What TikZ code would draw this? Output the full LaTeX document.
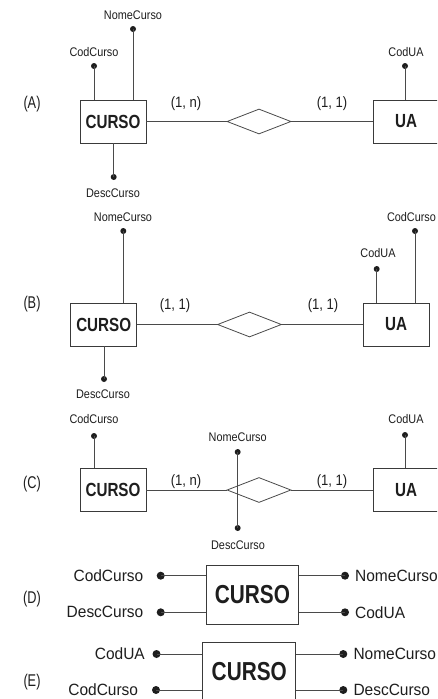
\documentclass[tikz,border=0pt]{standalone}
\usepackage{fontspec}
\setmainfont{Liberation Sans}
\newfontfamily\condf[FakeStretch=0.87]{Liberation Sans}
\newfontfamily\widef[FakeStretch=0.95]{Liberation Sans}
\newfontfamily\condb[FakeStretch=0.8]{Liberation Sans}
\newfontfamily\lblf[FakeStretch=0.75]{Liberation Sans}
\usetikzlibrary{shapes.geometric}
\definecolor{linec}{HTML}{4A4A4A}
\definecolor{boxc}{HTML}{3A3A3A}
\definecolor{txtc}{HTML}{1E1E1E}
\begin{document}
\begin{tikzpicture}[x=1pt,y=-1pt,
 ent/.style={draw=boxc, line width=0.9pt, minimum width=66pt, minimum height=43pt, inner sep=0pt, font=\condb\bfseries\fontsize{19}{20}\selectfont, text=txtc},
 bigent/.style={ent, minimum width=92pt, minimum height=59pt, font=\condb\bfseries\fontsize{26}{28}\selectfont},
 rel/.style={diamond, draw=linec, line width=0.8pt, minimum width=64pt, minimum height=25pt, inner sep=0pt},
 dot/.style={circle, fill=txtc, inner sep=0pt, minimum size=6pt},
 bigdot/.style={dot, minimum size=8pt},
 attr/.style={font=\condf\fontsize{12.5}{14}\selectfont, inner sep=0pt, text=txtc},
 bigattr/.style={font=\widef\fontsize{16.3}{18}\selectfont, inner sep=0pt, text=txtc},
 card/.style={font=\condf\fontsize{15}{17}\selectfont, inner sep=0pt, text=txtc},
 tag/.style={font=\lblf\fontsize{17}{19}\selectfont, inner sep=0pt, text=txtc},
 conn/.style={draw=linec, line width=0.8pt}]
\useasboundingbox (0,0) rectangle (437,699);
\clip (0,0) rectangle (437,699);
\fill[white] (0,0) rectangle (437,699);

% ---------- (A)
\node[tag] (tA) at (32,104) {(A)};
\node[ent] (cA) at (113,121.5) {CURSO};
\node[ent] (uA) at (406,121.5) {UA};
\node[rel] (rA) at (259,121.5) {};
\draw[conn] (cA) -- (rA);
\draw[conn] (rA) -- (uA);
\node[card] (k1A) at (186,104) {(1, n)};
\node[card] (k2A) at (332,104) {(1, 1)};
\node[dot] (a1) at (94,66) {};
\node[attr] (la1) at (94,52) {CodCurso};
\draw[conn] (a1.center) -- (a1.center |- cA.north);
\node[dot] (a2) at (133,29) {};
\node[attr] (la2) at (133,15) {NomeCurso};
\draw[conn] (a2.center) -- (a2.center |- cA.north);
\node[dot] (a3) at (113.7,177) {};
\node[attr] (la3) at (113,193) {DescCurso};
\draw[conn] (a3.center) -- (a3.center |- cA.south);
\node[dot] (a4) at (405,66) {};
\node[attr] (la4) at (406,52) {CodUA};
\draw[conn] (a4.center) -- (a4.center |- uA.north);

% ---------- (B)
\node[tag] (tB) at (32,304.5) {(B)};
\node[ent] (cB) at (103.7,324.5) {CURSO};
\node[ent] (uB) at (396,324.5) {UA};
\node[rel] (rB) at (249.5,324.5) {};
\draw[conn] (cB) -- (rB);
\draw[conn] (rB) -- (uB);
\node[card] (k1B) at (175,306) {(1, 1)};
\node[card] (k2B) at (323,306) {(1, 1)};
\node[dot] (b1) at (123.3,231) {};
\node[attr] (lb1) at (123,217) {NomeCurso};
\draw[conn] (b1.center) -- (b1.center |- cB.north);
\node[dot] (b2) at (104,379) {};
\node[attr] (lb2) at (103,394) {DescCurso};
\draw[conn] (b2.center) -- (b2.center |- cB.south);
\node[dot] (b3) at (376.7,269) {};
\node[attr] (lb3) at (378,253) {CodUA};
\draw[conn] (b3.center) -- (b3.center |- uB.north);
\node[dot] (b4) at (415,231) {};
\node[attr] (lb4) at (411.5,217) {CodCurso};
\draw[conn] (b4.center) -- (b4.center |- uB.north);

% ---------- (C)
\node[tag] (tC) at (32,484) {(C)};
\node[ent] (cC) at (113,490) {CURSO};
\node[ent] (uC) at (406,490) {UA};
\node[rel] (rC) at (259,490) {};
\draw[conn] (cC) -- (rC);
\draw[conn] (rC) -- (uC);
\node[card] (k1C) at (186,482) {(1, n)};
\node[card] (k2C) at (332,482) {(1, 1)};
\node[dot] (c1) at (94,436) {};
\node[attr] (lc1) at (94,419) {CodCurso};
\draw[conn] (c1.center) -- (c1.center |- cC.north);
\node[dot] (c2) at (237.7,452) {};
\node[attr] (lc2) at (237.7,437) {NomeCurso};
\node[dot] (c3) at (237.7,528) {};
\node[attr] (lc3) at (238,545) {DescCurso};
\draw[conn] (c2.center) -- (c3.center);
\node[dot] (c4) at (405,435) {};
\node[attr] (lc4) at (406,419) {CodUA};
\draw[conn] (c4.center) -- (c4.center |- uC.north);

% ---------- (D)
\node[tag] (tD) at (32,599) {(D)};
\node[bigent] (cD) at (252.5,595) {CURSO};
\node[bigdot] (d1) at (160.7,575.7) {};
\node[bigattr, anchor=east] (ld1) at (143.5,575.7) {CodCurso};
\draw[conn] (d1.center) -- (d1.center -| cD.west);
\node[bigdot] (d2) at (160.7,612.3) {};
\node[bigattr, anchor=east] (ld2) at (143.5,612.3) {DescCurso};
\draw[conn] (d2.center) -- (d2.center -| cD.west);
\node[bigdot] (d3) at (345,575.7) {};
\node[bigattr, anchor=west] (ld3) at (355,575.7) {NomeCurso};
\draw[conn] (d3.center) -- (d3.center -| cD.east);
\node[bigdot] (d4) at (345,612.3) {};
\node[bigattr, anchor=west] (ld4) at (355,612.3) {CodUA};
\draw[conn] (d4.center) -- (d4.center -| cD.east);

% ---------- (E)
\node[tag] (tE) at (32,682) {(E)};
\node[bigent, minimum width=93pt] (cE) at (249.3,672) {CURSO};
\node[bigdot] (e1) at (156.5,654) {};
\node[bigattr, anchor=east] (le1) at (145,654) {CodUA};
\draw[conn] (e1.center) -- (e1.center -| cE.west);
\node[bigdot] (e2) at (156,690) {};
\node[bigattr, anchor=east] (le2) at (138.3,690) {CodCurso};
\draw[conn] (e2.center) -- (e2.center -| cE.west);
\node[bigdot] (e3) at (343.3,654) {};
\node[bigattr, anchor=west] (le3) at (353.3,654) {NomeCurso};
\draw[conn] (e3.center) -- (e3.center -| cE.east);
\node[bigdot] (e4) at (343.3,690) {};
\node[bigattr, anchor=west] (le4) at (353.3,690) {DescCurso};
\draw[conn] (e4.center) -- (e4.center -| cE.east);
\end{tikzpicture}
\end{document}
